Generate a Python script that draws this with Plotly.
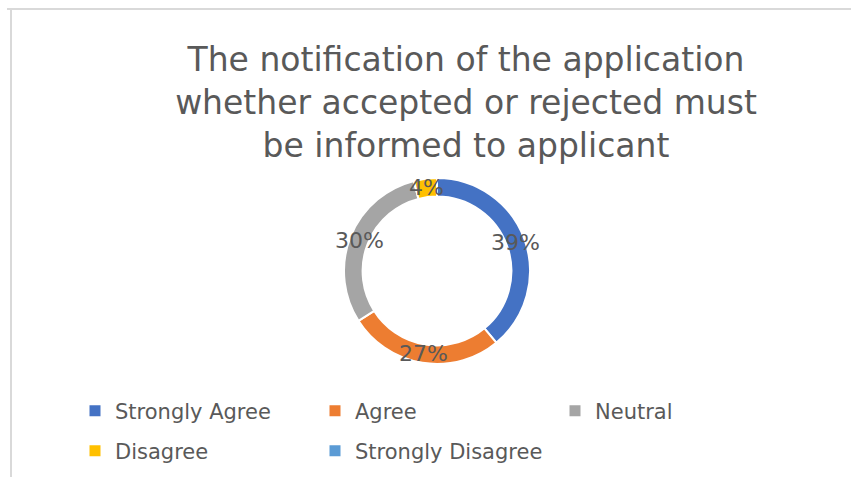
import math
import plotly.graph_objects as go

categories = ["Strongly Agree", "Agree", "Neutral", "Disagree", "Strongly Disagree"]
values = [39, 27, 30, 4, 0]
colors = ["#4472C4", "#ED7D31", "#A5A5A5", "#FFC000", "#5B9BD5"]
title_lines = ["The notification of the application",
               "whether accepted or rejected must",
               "be informed to applicant"]

W, H = 851, 477
text_color = "#595959"
font_family = "DejaVu Sans, Open Sans, sans-serif"

cx, cy, r, hole = 437, 206, 93, 0.8  # pie centre (px from left / bottom), radius
fig = go.Figure()
fig.add_trace(go.Pie(
    labels=categories, values=values, sort=False, direction="clockwise",
    rotation=0, hole=hole,
    marker=dict(colors=colors, line=dict(color="white", width=2)),
    textinfo="none", showlegend=False, hoverinfo="label+percent",
    domain=dict(x=[(cx - r) / W, (cx + r) / W], y=[(cy - r) / H, (cy + r) / H]),
))

# data labels at each slice's mid-angle on the ring (as Excel places them)
total = sum(values)
rm = r * (1 + hole) / 2
cum = 0
annotations = []
for v in values:
    if v > 0:
        theta = 2 * math.pi * (cum + v / 2) / total
        annotations.append(dict(
            x=(cx + rm * math.sin(theta)) / W, y=(cy + rm * math.cos(theta)) / H,
            xref="paper", yref="paper", text=f"{round(100 * v / total)}%",
            showarrow=False, xanchor="center", yanchor="middle",
            font=dict(size=22, color=text_color, family=font_family)))
    cum += v

# legend entries (two rows, as in the reference)
for i, (cat, col) in enumerate(zip(categories, colors)):
    fig.add_trace(go.Scatter(
        x=[None], y=[None], mode="markers", name=cat,
        marker=dict(symbol="square", size=11, color=col),
        legend="legend" if i < 3 else "legend2", hoverinfo="skip",
    ))

legend_common = dict(orientation="h", xanchor="left", yanchor="middle",
                     font=dict(size=21, color=text_color, family=font_family),
                     entrywidth=195, entrywidthmode="pixels",
                     bgcolor="rgba(0,0,0,0)", traceorder="normal")

fig.update_layout(
    width=W, height=H,
    margin=dict(l=0, r=0, t=0, b=0),
    paper_bgcolor="white", plot_bgcolor="white",
    title=dict(text="<br>".join(title_lines), x=466 / W, xanchor="center",
               y=1 - 71 / H, yanchor="top",
               font=dict(size=33, color=text_color, family=font_family)),
    xaxis=dict(visible=False), yaxis=dict(visible=False),
    legend=dict(x=75 / W, y=1 - 411 / H, **legend_common),
    legend2=dict(x=75 / W, y=1 - 451 / H, **legend_common),
    annotations=annotations,
    shapes=[
        dict(type="line", xref="paper", yref="paper", x0=7 / W, x1=1, y0=1 - 9 / H, y1=1 - 9 / H,
             line=dict(color="#D9D9D9", width=2)),
        dict(type="line", xref="paper", yref="paper", x0=11 / W, x1=11 / W, y0=0, y1=1 - 9 / H,
             line=dict(color="#D9D9D9", width=2)),
    ],
)

fig.write_html("out.html", config={"displayModeBar": False},
               post_script="document.body.style.margin='0';")
